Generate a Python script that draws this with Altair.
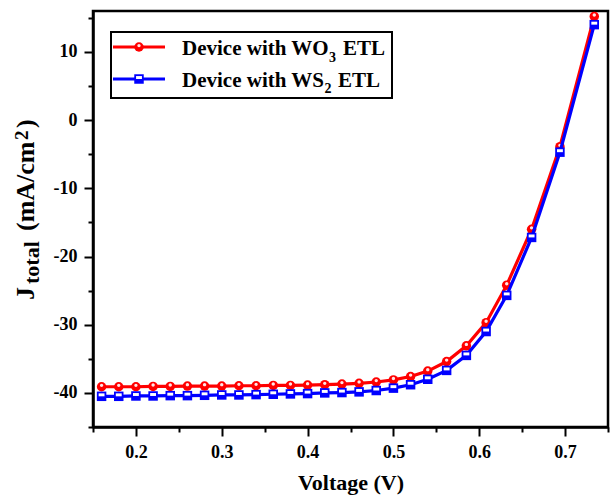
import altair as alt
import pandas as pd

# ---- data ----
voltage = [0.16, 0.18, 0.20, 0.22, 0.24, 0.26, 0.28, 0.30, 0.32, 0.34,
           0.36, 0.38, 0.40, 0.42, 0.44, 0.46, 0.48, 0.50, 0.52, 0.54,
           0.562, 0.585, 0.608, 0.632, 0.661, 0.694, 0.734]
j_wo3 = [-39.1, -39.1, -39.1, -39.05, -39.05, -39.0, -39.0, -39.0, -38.95, -38.95,
         -38.9, -38.9, -38.85, -38.8, -38.7, -38.6, -38.4, -38.1, -37.6, -36.8,
         -35.4, -33.1, -29.7, -24.2, -16.0, -3.9, 15.2]
j_ws2 = [-40.5, -40.5, -40.45, -40.45, -40.4, -40.4, -40.35, -40.3, -40.3, -40.25,
         -40.2, -40.15, -40.1, -40.0, -39.95, -39.85, -39.65, -39.3, -38.8, -38.0,
         -36.7, -34.5, -31.0, -25.7, -17.2, -4.7, 14.0]
series_names = ["Device with WO3 ETL", "Device with WS2 ETL"]
x_ticks = [0.15, 0.20, 0.25, 0.30, 0.35, 0.40, 0.45, 0.50, 0.55, 0.60, 0.65, 0.70, 0.75]
y_ticks = [-45, -40, -35, -30, -25, -20, -15, -10, -5, 0, 5, 10, 15]

RED = "#FF0000"
BLUE = "#0000FF"
FONT = "Liberation Serif"

df_wo3 = pd.DataFrame({"V": voltage, "J": j_wo3, "s": series_names[0]})
df_ws2 = pd.DataFrame({"V": voltage, "J": j_ws2, "s": series_names[1]})
one = pd.DataFrame({"a": [0]})

x_enc = alt.X(
    "V:Q",
    scale=alt.Scale(domain=[0.15, 0.75], nice=False, zero=False),
    axis=alt.Axis(
        values=x_ticks,
        labelExpr="round(datum.value*20) % 2 == 0 ? format(datum.value, '.1f') : ''",
        tickSize={"condition": {"test": "round(datum.value*20) % 2 == 1", "value": 5}, "value": 9},
        labelPadding=7,
        title="Voltage (V)",
        titleFontSize=22,
        titlePadding=11,
    ),
)
y_enc = alt.Y(
    "J:Q",
    scale=alt.Scale(domain=[-45, 16], nice=False, zero=False),
    axis=alt.Axis(
        values=y_ticks,
        labelExpr="abs(datum.value) % 10 == 0 ? '' + datum.value : ''",
        tickSize={"condition": {"test": "abs(datum.value) % 10 == 5", "value": 5}, "value": 9},
        labelPadding=7,
        title=None,
    ),
)

circle_hl = "M-0.35,-0.3 A0.35,0.35 0 1,0 0.35,-0.3 A0.35,0.35 0 1,0 -0.35,-0.3 Z"
square_hl = "M-0.62,-0.62 L0.62,-0.62 L0.62,0 L-0.62,0 Z"
MS = 90

red_line = alt.Chart(df_wo3).mark_line(color=RED, strokeWidth=3.2).encode(x=x_enc, y=y_enc)
red_pts = alt.Chart(df_wo3).mark_point(shape="circle", filled=True, size=MS, color=RED, opacity=1).encode(x=x_enc, y=y_enc)
red_hl = alt.Chart(df_wo3).mark_point(shape=circle_hl, filled=True, size=MS, color="white", opacity=0.9).encode(x=x_enc, y=y_enc)
blue_line = alt.Chart(df_ws2).mark_line(color=BLUE, strokeWidth=3.2).encode(x=x_enc, y=y_enc)
blue_pts = alt.Chart(df_ws2).mark_point(shape="square", filled=True, size=MS, color=BLUE, opacity=1).encode(x=x_enc, y=y_enc)
blue_hl = alt.Chart(df_ws2).mark_point(shape=square_hl, filled=True, size=MS, color="white", opacity=1).encode(x=x_enc, y=y_enc)

# ---- legend (drawn by hand) ----
leg_box = alt.Chart(one).mark_rect(fill="white", stroke="black", strokeWidth=2).encode(
    x=alt.value(18), x2=alt.value(299), y=alt.value(21), y2=alt.value(87))
leg_l1 = alt.Chart(one).mark_rule(color=RED, strokeWidth=3.2).encode(x=alt.value(20), x2=alt.value(72), y=alt.value(36))
leg_l2 = alt.Chart(one).mark_rule(color=BLUE, strokeWidth=3.2).encode(x=alt.value(20), x2=alt.value(72), y=alt.value(68))
leg_p1 = alt.Chart(one).mark_point(shape="circle", filled=True, size=MS, color=RED, opacity=1).encode(x=alt.value(46), y=alt.value(36))
leg_p1h = alt.Chart(one).mark_point(shape=circle_hl, filled=True, size=MS, color="white", opacity=0.9).encode(x=alt.value(46), y=alt.value(36))
leg_p2 = alt.Chart(one).mark_point(shape="square", filled=True, size=MS, color=BLUE, opacity=1).encode(x=alt.value(46), y=alt.value(68))
leg_p2h = alt.Chart(one).mark_point(shape=square_hl, filled=True, size=MS, color="white", opacity=1).encode(x=alt.value(46), y=alt.value(68))


def txt(s, x, y, size, angle=0):
    kw = dict(text=s, align="left", baseline="alphabetic", font=FONT, fontSize=size,
              fontWeight="bold", color="black")
    if angle:
        kw["angle"] = angle
    return alt.Chart(one).mark_text(**kw).encode(x=alt.value(x), y=alt.value(y))


leg_texts = [
    txt("Device with WO", 89, 44, 21), txt("3", 236, 51, 14), txt("ETL", 250, 44, 21),
    txt("Device with WS", 89, 76, 21), txt("2", 231.5, 82, 14), txt("ETL", 245, 76, 21),
]

# ---- y-axis title with sub/superscript ----
ytitle = [
    txt("J", -59, 289, 26, 270),
    txt("total", -54, 273, 22, 270),
    txt("(mA/cm", -59, 220, 26, 270),
    txt("2", -65, 129, 19, 270),
    txt(")", -59, 117, 26, 270),
]

chart = alt.layer(
    red_line, red_pts, red_hl, blue_line, blue_pts, blue_hl,
    leg_box, leg_l1, leg_l2, leg_p1, leg_p1h, leg_p2, leg_p2h,
    *leg_texts, *ytitle,
).properties(
    width=515, height=416,
    autosize=alt.AutoSizeParams(type="none"),
    padding={"left": 93, "top": 11, "right": 3, "bottom": 73},
    background="white",
).configure_view(
    stroke="black", strokeWidth=2.5
).configure_axis(
    grid=False,
    domainColor="black", domainWidth=2.5,
    tickColor="black", tickWidth=2,
    labelFont=FONT, labelFontWeight="bold", labelFontSize=18, labelColor="black",
    titleFont=FONT, titleFontWeight="bold", titleColor="black",
)

chart.save("out.html", embed_options={"renderer": "svg", "actions": False})
